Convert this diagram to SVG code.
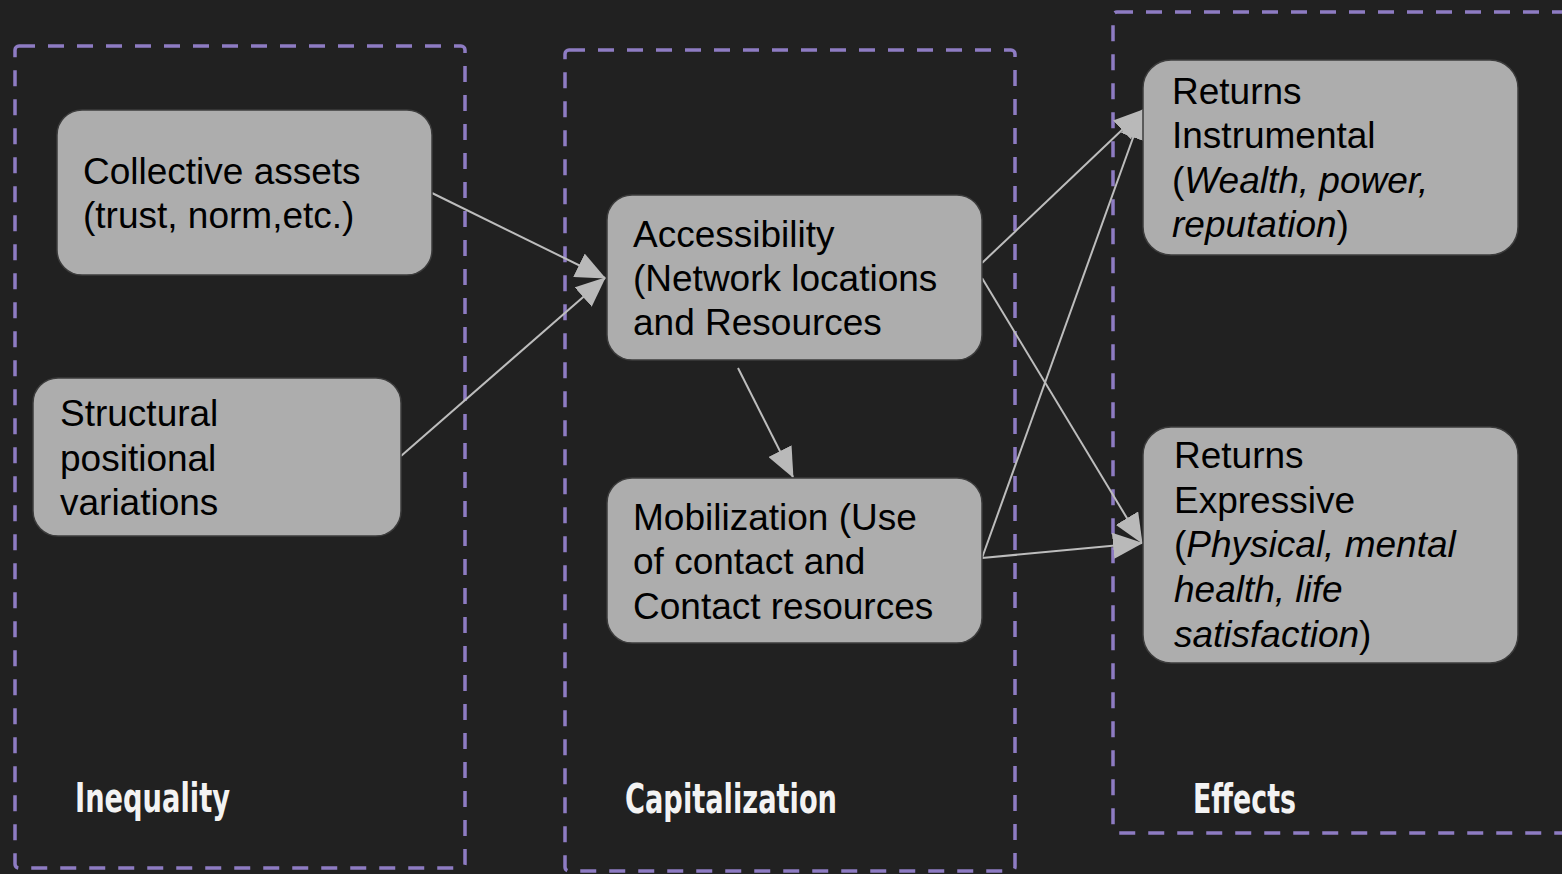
<svg xmlns="http://www.w3.org/2000/svg" width="1562" height="874" viewBox="0 0 1562 874">
<defs>
<marker id="ah" markerUnits="userSpaceOnUse" markerWidth="30" markerHeight="26" viewBox="0 0 30 26" refX="29" refY="13" orient="auto">
<path d="M0,0 L30,13 L0,26 z" fill="#b9b9b9"/>
</marker>
<style>
.frame{fill:none;stroke:#8e7cc3;stroke-width:3.5;stroke-dasharray:16 13}
.node rect{fill:#adadad;stroke:#3c3c3c;stroke-width:1.5}
.node text{font-family:"Liberation Sans",Arial,sans-serif;font-size:37px;fill:#000}
.title{font-family:"Liberation Sans Narrow","DejaVu Sans Condensed",sans-serif;font-weight:bold;font-size:40px;fill:#f3f3f3}
.conn line{stroke:#bdbdbd;stroke-width:2;marker-end:url(#ah)}
.it{font-style:italic}
</style>
</defs>
<rect width="1562" height="874" fill="#212121"/>
<g id="frames">
<rect class="frame" x="15" y="46" width="450" height="822" rx="4"/>
<rect class="frame" x="565" y="50" width="450" height="821" rx="4"/>
<rect class="frame" x="1113" y="12" width="460" height="821" rx="4"/>
</g>
<g id="titles">
<text class="title" x="75" y="812" textLength="155" lengthAdjust="spacingAndGlyphs">Inequality</text>
<text class="title" x="625" y="813" textLength="212" lengthAdjust="spacingAndGlyphs">Capitalization</text>
<text class="title" x="1193" y="813" textLength="103" lengthAdjust="spacingAndGlyphs">Effects</text>
</g>
<g class="conn" id="connectors">
<line x1="432" y1="193" x2="605" y2="278"/>
<line x1="401" y1="456" x2="605" y2="278"/>
<line x1="738" y1="368" x2="793" y2="477"/>
<line x1="982" y1="263" x2="1143" y2="110"/>
<line x1="982" y1="278" x2="1142" y2="543"/>
<line x1="982" y1="558" x2="1143" y2="110"/>
<line x1="982" y1="558" x2="1142" y2="543"/>
</g>
<g class="node" id="n-collective">
<rect x="57" y="110" width="375" height="165" rx="25"/>
<text x="83" y="184">Collective assets</text>
<text x="83" y="228">(trust, norm,etc.)</text>
</g>
<g class="node" id="n-structural">
<rect x="33" y="378" width="368" height="158" rx="25"/>
<text x="60" y="426">Structural</text>
<text x="60" y="471">positional</text>
<text x="60" y="515">variations</text>
</g>
<g class="node" id="n-accessibility">
<rect x="607" y="195" width="375" height="165" rx="25"/>
<text x="633" y="247">Accessibility</text>
<text x="633" y="291">(Network locations</text>
<text x="633" y="335">and Resources</text>
</g>
<g class="node" id="n-mobilization">
<rect x="607" y="478" width="375" height="165" rx="25"/>
<text x="633" y="530">Mobilization (Use</text>
<text x="633" y="574">of contact and</text>
<text x="633" y="619">Contact resources</text>
</g>
<g class="node" id="n-instrumental">
<rect x="1143" y="60" width="375" height="195" rx="28"/>
<text x="1172" y="104">Returns</text>
<text x="1172" y="148">Instrumental</text>
<text x="1172" y="193">(<tspan class="it">Wealth, power,</tspan></text>
<text x="1172" y="237"><tspan class="it">reputation</tspan>)</text>
</g>
<g class="node" id="n-expressive">
<rect x="1143" y="427" width="375" height="236" rx="28"/>
<text x="1174" y="468">Returns</text>
<text x="1174" y="513">Expressive</text>
<text x="1174" y="557">(<tspan class="it">Physical, mental</tspan></text>
<text x="1174" y="602"><tspan class="it">health, life</tspan></text>
<text x="1174" y="647"><tspan class="it">satisfaction</tspan>)</text>
</g>
</svg>
